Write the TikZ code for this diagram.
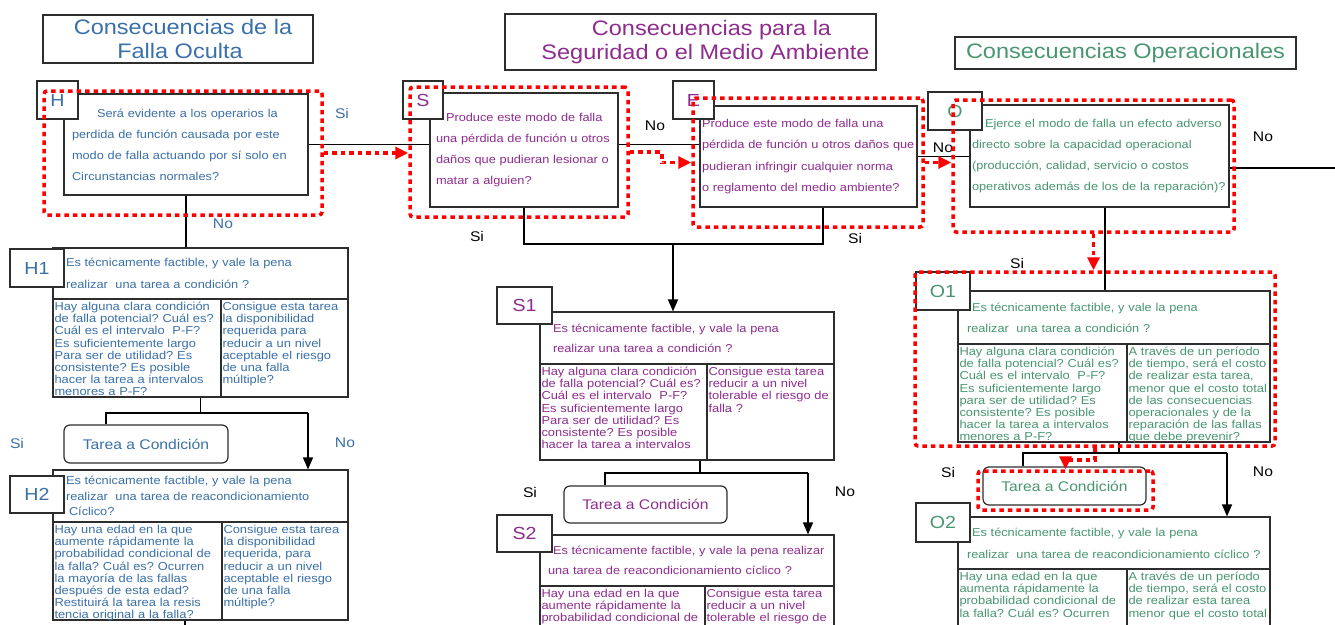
\documentclass[tikz,border=0pt]{standalone}
\usepackage{fontspec}
\setmainfont[FakeStretch=1.12]{Liberation Sans}
\usetikzlibrary{arrows.meta}
\frenchspacing

\definecolor{hblue}{RGB}{58,112,168}
\definecolor{spurp}{RGB}{142,44,142}
\definecolor{ogreen}{RGB}{72,150,112}
\definecolor{bord}{RGB}{45,45,45}

\newcommand{\tfont}{\fontsize{21}{24}\selectfont}
\newcommand{\lfont}{\fontsize{17.5}{20}\selectfont}
\newcommand{\cfont}{\fontsize{11.5}{12.2}\selectfont}
\newcommand{\afont}{\fontsize{14}{16}\selectfont}
\newcommand{\qfont}[1]{\fontsize{11.4}{#1}\selectfont}

\begin{document}
\begin{tikzpicture}[auto, x=1pt, y=-1pt, >={Triangle[length=12pt,width=10pt]}]
    \tikzstyle{ttl}=[draw=bord, line width=1.3pt, align=center, font=\tfont, inner sep=0pt]
    \tikzstyle{qbox}=[draw=bord, line width=1.2pt, fill=white, align=left, inner ysep=0pt]
    \tikzstyle{lab}=[draw=bord, line width=1.2pt, fill=white, font=\lfont, inner sep=0pt]
    \tikzstyle{cell}=[draw=bord, line width=1.2pt, align=left, font=\cfont, inner xsep=1.5pt, inner ysep=2pt, text height=9.5pt, text depth=84.5pt]
    \tikzstyle{tarea}=[draw=bord, line width=1.2pt, fill=white, rounded corners=6pt, font=\fontsize{14}{16}\selectfont, inner sep=0pt]
    \tikzstyle{ans}=[font=\afont]
    \tikzstyle{link}=[draw=black, line width=1.3pt]
    \tikzstyle{sel}=[draw=red, line width=3.5pt, dash pattern=on 4.5pt off 4pt, rounded corners=3pt, inner sep=0pt]
    \tikzstyle{selarr}=[red, line width=3.5pt, dash pattern=on 4.5pt off 4pt, -{Triangle[length=13pt,width=12pt]}]
  \useasboundingbox (0,0) rectangle (1335,624);

  %% titles
  \node (thid) at (178,39) [ttl, text=hblue, minimum width=270pt, minimum height=48pt] {\hspace*{10pt}Consecuencias de la\\\hspace*{4pt}Falla Oculta};
  \node (tseg) at (690.5,42) [ttl, text=spurp, minimum width=371pt, minimum height=56pt] {\hspace*{42pt}Consecuencias para la\\\hspace*{30pt}Seguridad o el Medio Ambiente};
  \node (top) at (1125.5,53) [ttl, text=ogreen, minimum width=341pt, minimum height=32pt] {Consecuencias Operacionales};

  %% first questions
  \node (hq) at (186,144.5) [qbox, text=hblue, font=\qfont{21}, minimum width=244pt, minimum height=101pt, inner xsep=8pt, text width=228pt]
    {\hspace*{25pt}Será evidente a los operarios la\\perdida de función causada por este\\modo de falla actuando por sí solo en\\Circunstancias normales?};
  \node (sq) at (524,150) [qbox, text=spurp, font=\qfont{21}, minimum width=188pt, minimum height=114pt, inner xsep=6pt, text width=176pt]
    {\hspace*{10pt}Produce este modo de falla\\una pérdida de función u otros\\daños que pudieran lesionar o\\matar a alguien?};
  \node (eq) at (808.5,156.5) [qbox, text=spurp, font=\qfont{21.5}, minimum width=217pt, minimum height=101pt, inner xsep=2pt, text width=213pt]
    {Produce este modo de falla una\\pérdida de función u otros daños que\\pudieran infringir cualquier norma\\o reglamento del medio ambiente?};
  \node (oq) at (1099.5,156) [qbox, text=ogreen, font=\qfont{21}, minimum width=259pt, minimum height=102pt, inner xsep=2pt, text width=255pt]
    {\hspace*{13pt}Ejerce el modo de falla un efecto adverso\\directo sobre la capacidad operacional\\(producción, calidad, servicio o costos\\operativos además de los de la reparación)?};

  %% task questions
  \node (h1q) at (200.5,273.5) [qbox, text=hblue, font=\qfont{22}, minimum width=295pt, minimum height=51pt, inner xsep=13pt, text width=269pt]
    {Es técnicamente factible, y vale la pena\\realizar\ \ una tarea a condición ?};
  \node (h2q) at (200.5,496) [qbox, text=hblue, font=\qfont{15.5}, minimum width=295pt, minimum height=52pt, inner xsep=13pt, text width=269pt]
    {Es técnicamente factible, y vale la pena\\realizar\ \ una tarea de reacondicionamiento\\\hspace*{3pt}Cíclico?};
  \node (s1q) at (687,338) [qbox, text=spurp, font=\qfont{20}, minimum width=294pt, minimum height=52pt, inner xsep=13pt, text width=268pt]
    {Es técnicamente factible, y vale la pena\\realizar una tarea a condición ?};
  \node (s2q) at (687,560.5) [qbox, text=spurp, font=\qfont{20}, minimum width=294pt, minimum height=51pt, inner xsep=8pt, text width=278pt]
    {\hspace*{5pt}Es técnicamente factible, y vale la pena realizar\\una tarea de reacondicionamiento cíclico ?};
  \node (o1q) at (1114,317.5) [qbox, text=ogreen, font=\qfont{21}, minimum width=312pt, minimum height=53pt, inner xsep=9pt, text width=294pt]
    {\hspace*{5pt}Es técnicamente factible, y vale la pena\\realizar\ \ una tarea a condición ?};
  \node (o2q) at (1114,543) [qbox, text=ogreen, font=\qfont{22}, minimum width=312pt, minimum height=52pt, inner xsep=9pt, text width=294pt]
    {\hspace*{5pt}Es técnicamente factible, y vale la pena\\realizar\ \ una tarea de reacondicionamiento cíclico ?};

  %% letter boxes
  \node (hl) at (57.5,100) [lab, text=hblue, minimum width=41pt, minimum height=38pt] {H};
  \node (sl) at (423,100) [lab, text=spurp, minimum width=40pt, minimum height=38pt] {S};
  \node (el) at (693.5,100) [lab, text=spurp, minimum width=41pt, minimum height=38pt] {E};
  \node (ol) at (955,111) [lab, text=ogreen, minimum width=54pt, minimum height=38pt] {O};
  \node (h1l) at (37,268) [lab, text=hblue, minimum width=54pt, minimum height=38pt] {H1};
  \node (h2l) at (37,494.5) [lab, text=hblue, minimum width=54pt, minimum height=37pt] {H2};
  \node (s1l) at (524.5,305.5) [lab, text=spurp, minimum width=55pt, minimum height=37pt] {S1};
  \node (s2l) at (524.5,533.5) [lab, text=spurp, minimum width=55pt, minimum height=37pt] {S2};
  \node (o1l) at (943,291) [lab, text=ogreen, minimum width=54pt, minimum height=38pt] {O1};
  \node (o2l) at (943,522.5) [lab, text=ogreen, minimum width=54pt, minimum height=39pt] {O2};

  %% criteria tables
  \node (h1a) at (137,348) [cell, text=hblue, text width=165pt]
    {Hay alguna clara condición\\de falla potencial? Cuál es?\\Cuál es el intervalo\ \ P-F?\\Es suficientemente largo\\Para ser de utilidad? Es\\consistente? Es posible\\hacer la tarea a intervalos\\menores a P-F?};
  \node (h1b) at (284.5,348) [cell, text=hblue, text width=124pt]
    {Consigue esta tarea\\la disponibilidad\\requerida para\\reducir a un nivel\\aceptable el riesgo\\de una falla\\múltiple?};
  \node (h2a) at (137.5,571) [cell, text=hblue, text width=166pt]
    {Hay una edad en la que\\aumente rápidamente la\\probabilidad condicional de\\la falla? Cuál es? Ocurren\\la mayoría de las fallas\\después de esta edad?\\Restituirá la tarea la resis\\tencia original a la falla?};
  \node (h2b) at (285,571) [cell, text=hblue, text width=123pt]
    {Consigue esta tarea\\la disponibilidad\\requerida, para\\reducir a un nivel\\aceptable el riesgo\\de una falla\\múltiple?};
  \node (s1a) at (623.5,412) [cell, text=spurp, text width=164pt, text depth=82.5pt]
    {Hay alguna clara condición\\de falla potencial? Cuál es?\\Cuál es el intervalo\ \ P-F?\\Es suficientemente largo\\Para ser de utilidad? Es\\consistente? Es posible\\hacer la tarea a intervalos};
  \node (s1b) at (770.5,412) [cell, text=spurp, text width=124pt, text depth=82.5pt]
    {Consigue esta tarea\\reducir a un nivel\\tolerable el riesgo de\\falla ?};
  \node (s2a) at (622.5,635) [cell, text=spurp, text width=162pt]
    {Hay una edad en la que\\aumente rápidamente la\\probabilidad condicional de};
  \node (s2b) at (769.5,635) [cell, text=spurp, text width=126pt]
    {Consigue esta tarea\\reducir a un nivel\\tolerable el riesgo de};
  \node (o1a) at (1042.5,393) [cell, text=ogreen, text width=166pt]
    {Hay alguna clara condición\\de falla potencial? Cuál es?\\Cuál es el intervalo\ \ P-F?\\Es suficientemente largo\\para ser de utilidad? Es\\consistente? Es posible\\hacer la tarea a intervalos\\menores a P-F?};
  \node (o1b) at (1198.5,393) [cell, text=ogreen, text width=140pt]
    {A través de un período\\de tiempo, será el costo\\de realizar esta tarea,\\menor que el costo total\\de las consecuencias\\operacionales y de la\\reparación de las fallas\\que debe prevenir?};
  \node (o2a) at (1042.5,618) [cell, text=ogreen, text width=166pt]
    {Hay una edad en la que\\aumenta rápidamente la\\probabilidad condicional de\\la falla? Cuál es? Ocurren};
  \node (o2b) at (1198.5,618) [cell, text=ogreen, text width=140pt]
    {A través de un período\\de tiempo, será el costo\\de realizar esta tarea\\menor que el costo total};

  %% tasks
  \node (htc) at (146,444) [tarea, text=hblue, minimum width=164pt, minimum height=38pt] {Tarea a Condición};
  \node (stc) at (645.5,504.5) [tarea, text=spurp, minimum width=163pt, minimum height=37pt] {Tarea a Condición};
  \node (otc) at (1064.5,486) [tarea, text=ogreen, minimum width=163pt, minimum height=38pt] {Tarea a Condición};

  %% junctions
  \coordinate (oend) at (1335,168);
  \coordinate (h1j) at (200.5,413);
  \coordinate (h1jl) at (106,413);
  \coordinate (h1jr) at (308,413);
  \coordinate (h2e) at (185,630);
  \coordinate (sjl) at (524,244);
  \coordinate (sjr) at (823,244);
  \coordinate (sjm) at (673,244);
  \coordinate (s1j) at (700,473);
  \coordinate (s1jl) at (605,473);
  \coordinate (s1jr) at (808,473);
  \coordinate (oj) at (1105,250);
  \coordinate (o1j) at (1119,453);
  \coordinate (o1jl) at (1023,453);
  \coordinate (o1jr) at (1227,453);

  \draw[link] (hq.east) -- (hq.east -| sq.west);
  \draw[link] (sq.east |- hq.east) -- (eq.west |- hq.east);
  \draw[link] (eq.east) -- (eq.east -| oq.west);
  \draw[link] (oq.east |- oend) -- (oend);

  \draw[link] (hq.south) -- (hq.south |- h1q.north);
  \draw[link] (h1j |- h1a.south) -- (h1j);
  \draw[link] (h1jl |- htc.north) -- (h1jl) -- (h1jr);
  \draw[link,->] (h1jr) -- (h1jr |- h2q.north);
  \draw[link] (h2e |- h2a.south) -- (h2e);

  \draw[link] (sjl |- sq.south) -- (sjl) -- (sjr) -- (sjr |- eq.south);
  \draw[link,->] (sjm) -- (sjm |- s1q.north);
  \draw[link] (s1j |- s1a.south) -- (s1j);
  \draw[link] (s1jl |- stc.north) -- (s1jl) -- (s1jr);
  \draw[link,->] (s1jr) -- (s1jr |- s2q.north);

  \draw[link] (oj |- oq.south) -- (oj |- o1q.north);
  \draw[link] (o1j |- o1a.south) -- (o1j);
  \draw[link] (o1jl |- otc.north) -- (o1jl) -- (o1jr);
  \draw[link,->] (o1jr) -- (o1jr |- o2q.north);

  %% answers
  \node (hsi) at (342,113) [ans, text=hblue] {Si};
  \node (hno) at (223,224) [ans, text=hblue] {No};
  \node (h1si) at (17,443) [ans, text=hblue] {Si};
  \node (h1no) at (345,443) [ans, text=hblue] {No};
  \node (sno) at (655,126) [ans] {No};
  \node (ssi) at (477,236) [ans] {Si};
  \node (esi) at (855,238) [ans] {Si};
  \node (s1si) at (530,492) [ans] {Si};
  \node (s1no) at (845,492) [ans] {No};
  \node (eno) at (943,148) [ans] {No};
  \node (ono) at (1263,137) [ans] {No};
  \node (osi) at (1017,263) [ans] {Si};
  \node (o1si) at (948,472) [ans] {Si};
  \node (o1no) at (1263,472) [ans] {No};

  %% highlighted path
  \node (hsel) at (183,153) [sel, minimum width=278pt, minimum height=124pt] {};
  \node (ssel) at (519,152) [sel, minimum width=218pt, minimum height=130pt] {};
  \node (esel) at (808,162.5) [sel, minimum width=230pt, minimum height=129pt] {};
  \node (osel) at (1093.5,166) [sel, minimum width=281pt, minimum height=132pt] {};
  \node (o1sel) at (1095,359) [sel, minimum width=360pt, minimum height=174pt] {};
  \node (otcsel) at (1065.5,490.5) [sel, minimum width=175pt, minimum height=39pt] {};

  \draw[selarr] (hsel.east) -- (hsel.east -| ssel.west);
  \draw[selarr] (ssel.east) -- ++(32,0) |- (esel.west);
  \draw[selarr] (esel.east) -- (esel.east -| osel.west);
  \draw[selarr] (osel.south) -- (osel.south |- o1sel.north);
  \draw[selarr] (o1sel.south) -- ++(0,12) -| (otcsel.north);
\end{tikzpicture}
\end{document}
